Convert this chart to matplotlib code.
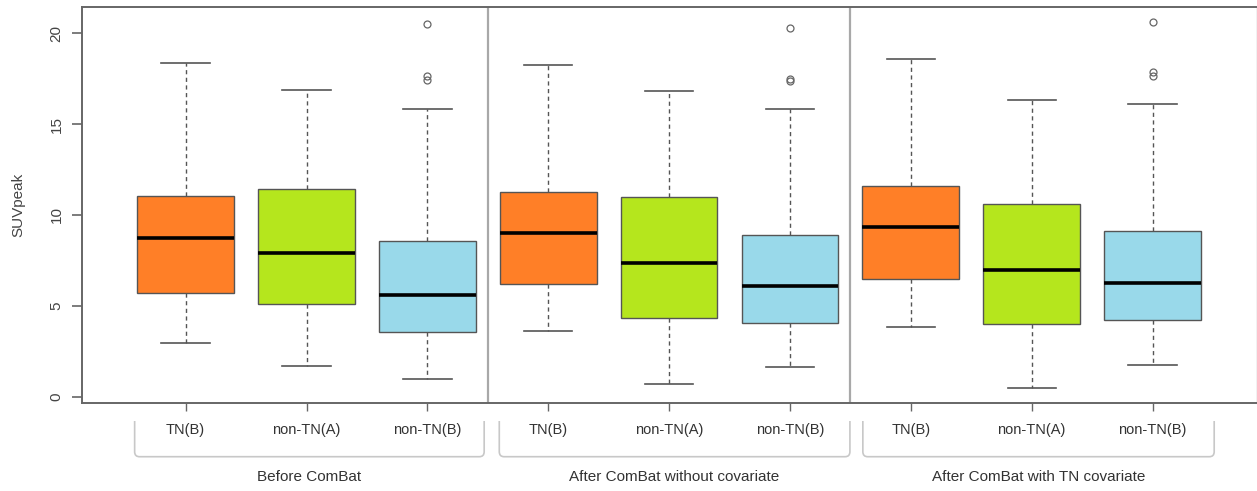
import matplotlib
matplotlib.use("Agg")
import matplotlib.pyplot as plt
from matplotlib.path import Path
from matplotlib.patches import PathPatch
from matplotlib.transforms import blended_transform_factory

plt.rcParams['font.family'] = ['Liberation Sans', 'DejaVu Sans']

# ---- data ----
groups = ["Before ComBat", "After ComBat without covariate", "After ComBat with TN covariate"]
categories = ["TN(B)", "non-TN(A)", "non-TN(B)"]
colors = ["#FF7F27", "#B5E61D", "#99D9EA"]

whislo = [2.95, 1.67, 0.95, 3.59, 0.70, 1.61, 3.81, 0.46, 1.72]
q1     = [5.71, 5.09, 3.53, 6.17, 4.32, 4.03, 6.45, 4.01, 4.23]
med    = [8.72, 7.93, 5.60, 9.03, 7.33, 6.08, 9.34, 6.96, 6.23]
q3     = [11.04, 11.41, 8.55, 11.25, 11.01, 8.92, 11.59, 10.59, 9.14]
whishi = [18.37, 16.90, 15.84, 18.28, 16.85, 15.82, 18.61, 16.34, 16.10]
fliers = [[], [], [20.49, 17.65, 17.45],
          [], [], [20.29, 17.50, 17.40],
          [], [], [20.62, 17.85, 17.65]]

yticks = [0, 5, 10, 15, 20]

# ---- figure ----
W, H = 1257, 491
fig = plt.figure(figsize=(W / 100, H / 100), dpi=100)
ax = fig.add_axes([81.7 / W, 1 - 402.7 / H, (1256.5 - 81.7) / W, (402.7 - 6.7) / H])

n = len(med)
positions = list(range(1, n + 1))
stats = []
for i in range(n):
    stats.append(dict(med=med[i], q1=q1[i], q3=q3[i], whislo=whislo[i],
                      whishi=whishi[i], fliers=fliers[i]))

edge = "#555555"
bp = ax.bxp(stats, positions=positions, widths=0.8, patch_artist=True,
            showfliers=True,
            boxprops=dict(edgecolor=edge, linewidth=1.0),
            medianprops=dict(color="black", linewidth=2.6, solid_capstyle='butt'),
            whiskerprops=dict(color=edge, linewidth=1.0, linestyle=(0, (3, 2.5))),
            capprops=dict(color=edge, linewidth=1.2),
            flierprops=dict(marker='o', markerfacecolor='none', markeredgecolor='#666666',
                            markersize=5, markeredgewidth=0.9),
            capwidths=0.4)
for i, box in enumerate(bp['boxes']):
    box.set_facecolor(colors[i % 3])

ax.set_xlim(0.14, 9.86)
ax.set_ylim(-0.34, 21.47)

# group separators
for xs in [3.5, 6.5]:
    ax.axvline(xs, color="#a8a8a8", linewidth=1.6)

# spines
for s in ['left', 'bottom', 'top']:
    ax.spines[s].set_color("#666666")
    ax.spines[s].set_linewidth(1.4)
ax.spines['right'].set_color("#bbbbbb")
ax.spines['right'].set_linewidth(1.0)

ax.set_yticks(yticks)
ax.set_yticklabels([str(v) for v in yticks])
ax.tick_params(axis='y', length=7, width=1.2, color="#666666", pad=6,
               labelsize=11, labelcolor="#444444", labelrotation=90)
for lab in ax.get_yticklabels():
    lab.set_va('center')

ax.set_xticks(positions)
ax.set_xticklabels([categories[i % 3] for i in range(n)])
ax.tick_params(axis='x', length=5.5, width=1.0, color="#666666", pad=9,
               labelsize=10.5, labelcolor="#333333")

fig.text(18 / W, 1 - 205 / H, "SUVpeak", rotation=90, ha='center', va='center',
         fontsize=11, color="#444444")

# group brackets
trans = blended_transform_factory(ax.transData, fig.transFigure)
ytop = 1 - 421 / H
ybot = 1 - 456.7 / H
rx = 0.04
ry = 5 / H
spans = [(0.578, 3.47), (3.595, 6.496), (6.603, 9.51)]
for (x0, x1), g in zip(spans, groups):
    verts = [(x0, ytop), (x0, ybot + ry), (x0, ybot), (x0 + rx, ybot),
             (x1 - rx, ybot), (x1, ybot), (x1, ybot + ry), (x1, ytop)]
    codes = [Path.MOVETO, Path.LINETO, Path.CURVE3, Path.CURVE3,
             Path.LINETO, Path.CURVE3, Path.CURVE3, Path.LINETO]
    patch = PathPatch(Path(verts, codes), transform=trans, fill=False,
                      edgecolor="#c8c8c8", linewidth=1.2, clip_on=False)
    fig.add_artist(patch)
    ax.text((x0 + x1) / 2, 1 - 476.7 / H, g, transform=trans, fontsize=11,
            color="#333333", ha='center', va='center', clip_on=False)

fig.savefig("out.png", dpi=100)
